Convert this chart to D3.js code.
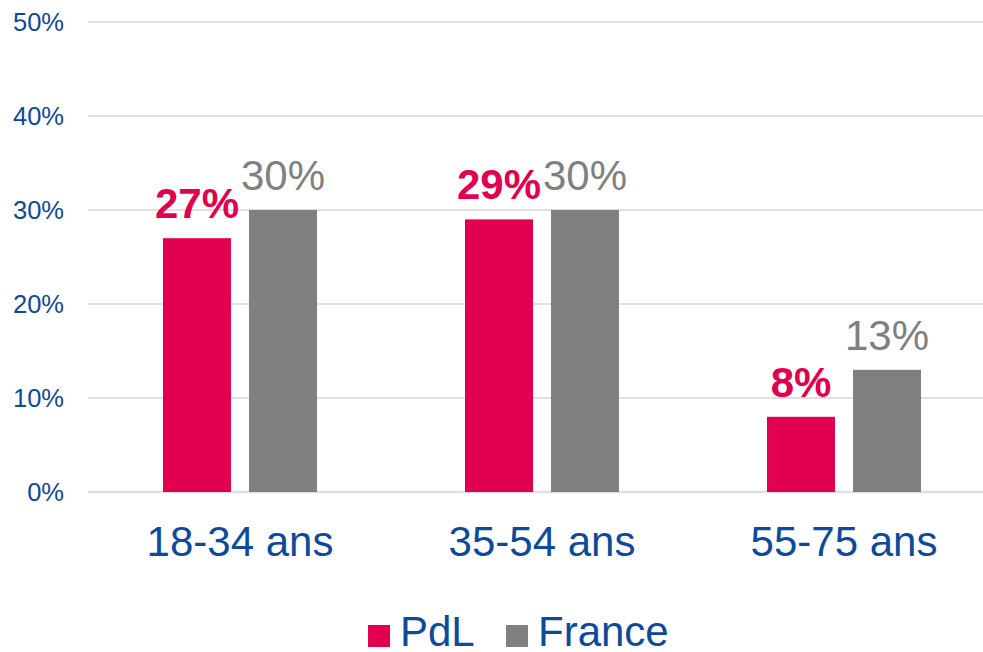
<!DOCTYPE html>
<html lang="fr">
  <head>
    <meta charset="UTF-8" />
    <title>PdL vs France</title>
    <style>
      body {
        margin: 0;
        background: #fff;
      }
      svg text {
        font-family: "Liberation Sans", Arial, sans-serif;
      }
    </style>
  </head>
  <body>
    <svg id="svg" width="983" height="652"></svg>
    <script src="https://cdn.jsdelivr.net/npm/d3@7"></script>
    <script>
      // DATA
      const categories = ["18-34 ans", "35-54 ans", "55-75 ans"];
      const seriesNames = ["PdL", "France"];
      const pdlValues = [27, 29, 8];
      const franceValues = [30, 30, 13];
      const yTicks = [0, 10, 20, 30, 40, 50];

      // CONSTANTS
      const WIDTH = 983;
      const HEIGHT = 652;
      const LEFT = 88;
      const TOP = 22;
      const BOTTOM = 492;
      const BLUE = "#0D4A9B";
      const colors = { PdL: "#E20050", France: "#808080" };

      const rows = categories.map((c, i) => ({
        category: c,
        PdL: pdlValues[i],
        France: franceValues[i],
      }));

      const svg = d3.select("#svg");

      const y = d3.scaleLinear().domain([0, 50]).range([BOTTOM, TOP]);

      const x0 = d3
        .scaleBand()
        .domain(categories)
        .range([89, 995])
        .paddingInner(0.49)
        .paddingOuter(0.245);

      const x1 = d3
        .scaleBand()
        .domain(seriesNames)
        .range([0, x0.bandwidth()])
        .paddingInner(0.209);

      // gridlines
      svg
        .append("g")
        .selectAll("line")
        .data(yTicks)
        .enter()
        .append("line")
        .attr("x1", LEFT)
        .attr("x2", WIDTH)
        .attr("y1", (d) => y(d))
        .attr("y2", (d) => y(d))
        .attr("stroke", "#E0E0E0")
        .attr("stroke-width", (d) => (d === 0 ? 2.5 : 2));

      // y tick labels
      svg
        .append("g")
        .selectAll("text")
        .data(yTicks)
        .enter()
        .append("text")
        .attr("x", 64)
        .attr("y", (d) => y(d) + 9)
        .attr("text-anchor", "end")
        .attr("fill", BLUE)
        .style("font-size", "25.5px")
        .text((d) => d + "%");

      // bars
      const groups = svg
        .append("g")
        .selectAll("g")
        .data(rows)
        .enter()
        .append("g")
        .attr("transform", (d) => `translate(${x0(d.category)},0)`);

      groups
        .selectAll("rect")
        .data((d) => seriesNames.map((s) => ({ key: s, value: d[s] })))
        .enter()
        .append("rect")
        .attr("x", (d) => x1(d.key))
        .attr("y", (d) => y(d.value))
        .attr("width", x1.bandwidth())
        .attr("height", (d) => y(0) - y(d.value))
        .attr("fill", (d) => colors[d.key]);

      // value labels
      groups
        .selectAll("text")
        .data((d) => seriesNames.map((s) => ({ key: s, value: d[s] })))
        .enter()
        .append("text")
        .attr("x", (d) => x1(d.key) + x1.bandwidth() / 2)
        .attr("y", (d) => y(d.value) - 20)
        .attr("text-anchor", "middle")
        .attr("fill", (d) => colors[d.key])
        .style("font-size", "42px")
        .style("font-weight", (d) => (d.key === "PdL" ? "bold" : "normal"))
        .text((d) => d.value + "%");

      // category labels
      svg
        .append("g")
        .selectAll("text")
        .data(categories)
        .enter()
        .append("text")
        .attr("x", (d) => x0(d) + x0.bandwidth() / 2)
        .attr("y", 556)
        .attr("text-anchor", "middle")
        .attr("fill", BLUE)
        .style("font-size", "42px")
        .text((d) => d);

      // legend
      const legendX = [368, 506];
      const legend = svg
        .append("g")
        .selectAll("g")
        .data(seriesNames)
        .enter()
        .append("g")
        .attr("transform", (d, i) => `translate(${legendX[i]},625)`);

      legend
        .append("rect")
        .attr("width", 22)
        .attr("height", 22)
        .attr("fill", (d) => colors[d]);

      legend
        .append("text")
        .attr("x", 32)
        .attr("y", 21)
        .attr("fill", BLUE)
        .style("font-size", "42px")
        .text((d) => d);
    </script>
  </body>
</html>
